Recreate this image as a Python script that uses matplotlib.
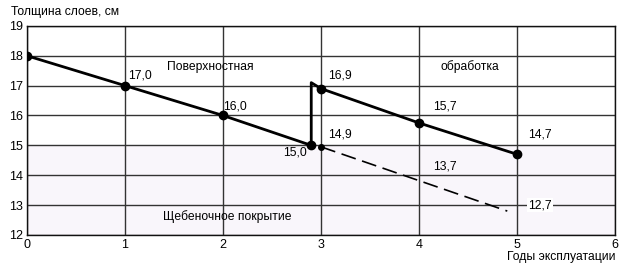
import matplotlib
matplotlib.use("Agg")
import matplotlib.pyplot as plt

plt.rcParams['font.family'] = ['Liberation Sans', 'DejaVu Sans']

# Data
base_x = [0, 1, 2, 2.9]
base_y = [18.0, 17.0, 16.0, 15.0]
jump_x = [2.9, 2.9, 3.0]
jump_y = [15.0, 17.1, 16.9]
treated_x = [3.0, 4.0, 5.0]
treated_y = [16.9, 15.75, 14.7]
dashed_x = [3.0, 4.9]
dashed_y = [14.95, 12.8]

labels = [
    (1.03, 17.33, "17,0"),
    (2.0, 16.3, "16,0"),
    (2.61, 14.75, "15,0"),
    (3.07, 15.35, "14,9"),
    (3.07, 17.33, "16,9"),
    (4.14, 16.3, "15,7"),
    (5.11, 15.35, "14,7"),
    (4.14, 14.28, "13,7"),
]

FS = 8.7

fig = plt.figure(figsize=(6.22, 2.67), dpi=100)
ax = fig.add_axes([0.0434, 0.12, 0.9455, 0.783])
ax.set_xlim(0, 6)
ax.set_ylim(12, 19)
ax.axhspan(12, 15, color='#f9f6fb', zorder=0)

ax.set_xticks(range(0, 7))
ax.set_yticks(range(12, 20))
ax.grid(True, color='#333333', linewidth=1.0, zorder=1)
for s in ax.spines.values():
    s.set_color('#111111')
    s.set_linewidth(1.0)
ax.tick_params(length=0, labelsize=FS + 0.3, pad=3)

ax.plot(base_x, base_y, color='black', lw=2.0, marker='o', ms=6, zorder=3)
ax.plot(jump_x, jump_y, color='black', lw=2.0, zorder=3)
ax.plot(treated_x, treated_y, color='black', lw=2.0, marker='o', ms=6, zorder=3)
ax.plot(dashed_x, dashed_y, color='black', lw=1.2, ls=(0, (9, 4)), zorder=3)
ax.plot([dashed_x[0]], [dashed_y[0]], 'o', color='black', ms=4, zorder=3)

for x, y, t in labels:
    ax.text(x, y, t, fontsize=FS, ha='left', va='center', zorder=4)
ax.text(5.11, 13.0, "12,7", fontsize=FS, ha='left', va='center', zorder=4,
        bbox=dict(facecolor='white', edgecolor='none', pad=1))

ax.text(1.87, 17.63, "Поверхностная", fontsize=FS, ha='center', va='center')
ax.text(4.52, 17.63, "обработка", fontsize=FS, ha='center', va='center')
ax.text(2.04, 12.61, "Щебеночное покрытие", fontsize=FS, ha='center', va='center')

fig.text(0.018, 0.955, "Толщина слоев, см", fontsize=FS, ha='left', va='center')
fig.text(0.989, 0.037, "Годы эксплуатации", fontsize=FS, ha='right', va='center')

fig.savefig("out.png", dpi=100)
